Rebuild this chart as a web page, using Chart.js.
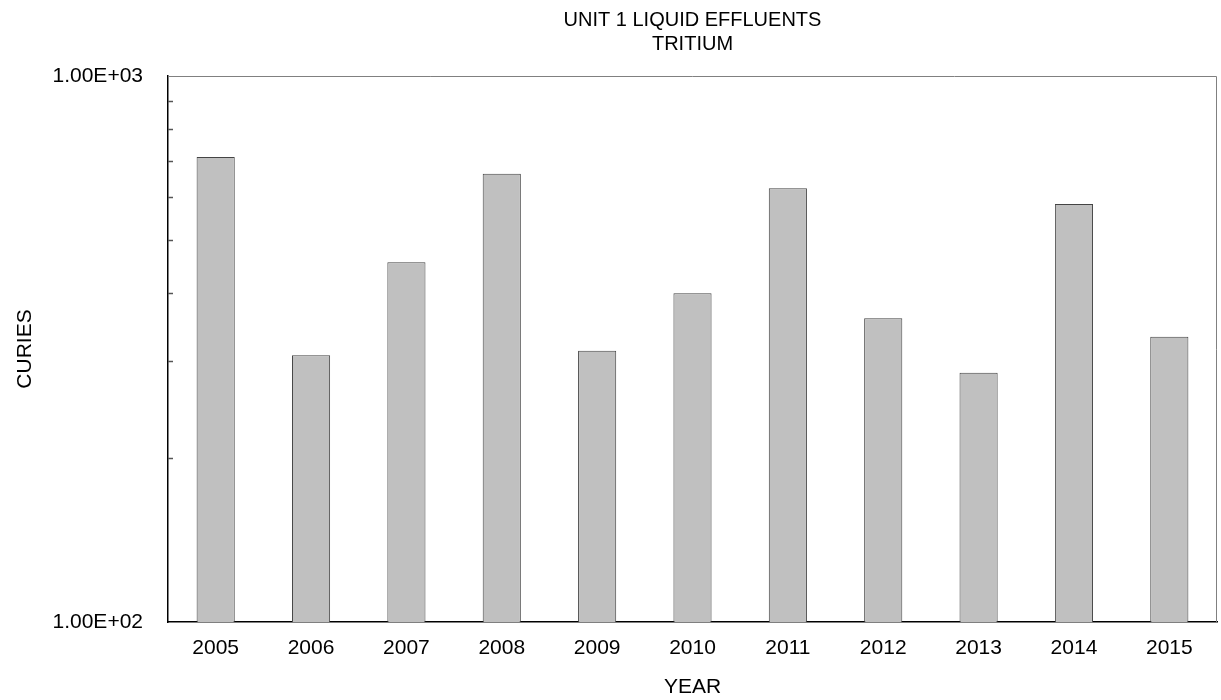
<!DOCTYPE html>
<html>
<head>
<meta charset="utf-8">
<title>Unit 1 Liquid Effluents - Tritium</title>
<script src="https://cdn.jsdelivr.net/npm/chart.js@4.4.0/dist/chart.umd.min.js"></script>
<style>
    body { margin: 0; background: #fff; }
    #wrap { width: 1221px; height: 700px; }
</style>
</head>
<body>
<div id="wrap"><canvas id="grafico" width="1221" height="700"></canvas></div>
<script>
// Dados
var anos = ['2005', '2006', '2007', '2008', '2009', '2010', '2011', '2012', '2013', '2014', '2015'];
var curies = [711, 308, 456, 662, 314, 400, 623, 360, 286, 583, 333];
var ticksY = [100, 200, 300, 400, 500, 600, 700, 800, 900, 1000];
var rotulosY = { 100: '1.00E+02', 1000: '1.00E+03' };
var titulo = ['UNIT 1 LIQUID EFFLUENTS', 'TRITIUM'];

var fonte = 'Liberation Sans, Arial, Helvetica, sans-serif';

// Titulo centrado na area do grafico
var pluginTitulo = {
    id: 'tituloCentro',
    afterDraw: function (chart) {
        var ctx = chart.ctx;
        var area = chart.chartArea;
        var cx = (area.left + area.right) / 2;
        ctx.save();
        ctx.fillStyle = '#000';
        ctx.font = '20px ' + fonte;
        ctx.textAlign = 'center';
        ctx.textBaseline = 'middle';
        ctx.fillText(titulo[0], cx, 20);
        ctx.fillText(titulo[1], cx, 44);
        ctx.restore();
    }
};

// Moldura (topo e direita) e marcas menores para dentro no eixo Y
var pluginMoldura = {
    id: 'moldura',
    afterDatasetsDraw: function (chart) {
        var ctx = chart.ctx;
        var area = chart.chartArea;
        var y = chart.scales.y;
        ctx.save();
        ctx.strokeStyle = '#808080';
        ctx.lineWidth = 1;
        ctx.beginPath();
        ctx.moveTo(area.left, area.top + 0.5);
        ctx.lineTo(area.right - 0.5, area.top + 0.5);
        ctx.lineTo(area.right - 0.5, area.bottom);
        ctx.stroke();

        ctx.strokeStyle = '#555';
        ctx.lineWidth = 1.5;
        ticksY.forEach(function (v) {
            if (rotulosY[v]) return;
            var py = Math.round(y.getPixelForValue(v)) + 0.5;
            ctx.beginPath();
            ctx.moveTo(area.left, py);
            ctx.lineTo(area.left + 5, py);
            ctx.stroke();
        });
        ctx.restore();
    }
};

var ctx = document.getElementById('grafico').getContext('2d');
var grafico = new Chart(ctx, {
    type: 'bar',
    data: {
        labels: anos,
        datasets: [{
            label: 'Tritium',
            data: curies,
            backgroundColor: '#c0c0c0',
            borderColor: '#444444',
            borderWidth: 1,
            categoryPercentage: 1.0,
            barPercentage: 0.4
        }]
    },
    options: {
        responsive: false,
        animation: false,
        layout: {
            padding: { top: 76, right: 4, left: 0, bottom: 0 }
        },
        plugins: {
            legend: { display: false },
            tooltip: { enabled: false },
            title: { display: false }
        },
        scales: {
            x: {
                grid: { display: false, drawTicks: false },
                border: { display: true, color: '#000', width: 1.5 },
                ticks: {
                    color: '#000',
                    font: { family: fonte, size: 21 },
                    padding: 14,
                    maxRotation: 0
                },
                title: {
                    display: true,
                    text: 'YEAR',
                    color: '#000',
                    font: { family: fonte, size: 21 },
                    padding: { top: 3, bottom: 0 }
                },
                afterFit: function (scale) {
                    scale.height = 78;
                }
            },
            y: {
                type: 'logarithmic',
                min: 100,
                max: 1000,
                grid: { display: false, drawTicks: false },
                border: { display: true, color: '#000', width: 1.5 },
                afterBuildTicks: function (scale) {
                    scale.ticks = ticksY.map(function (v) { return { value: v }; });
                },
                ticks: {
                    autoSkip: false,
                    color: '#000',
                    font: { family: fonte, size: 21 },
                    padding: 25,
                    callback: function (valor) {
                        return rotulosY[valor] || '';
                    }
                },
                title: {
                    display: true,
                    text: 'CURIES',
                    color: '#000',
                    font: { family: fonte, size: 21 },
                    padding: { top: 13, bottom: 0 }
                },
                afterFit: function (scale) {
                    scale.width = 168;
                }
            }
        }
    },
    plugins: [pluginTitulo, pluginMoldura]
});
</script>
</body>
</html>
